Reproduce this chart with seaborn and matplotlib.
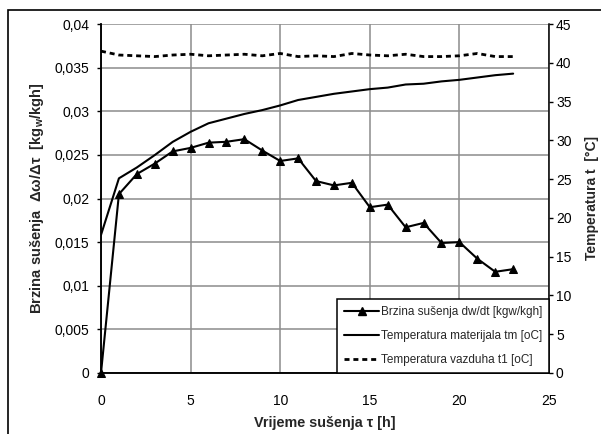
import numpy as np
import pandas as pd
import matplotlib
matplotlib.use("Agg")
import matplotlib.pyplot as plt
from matplotlib.lines import Line2D
from matplotlib.patches import Rectangle
import seaborn as sns

# drying time [h]
hours = list(range(24))

# drying rate dw/dt [kgw/kgh]
drying_rate = [0.0, 0.0205, 0.0228, 0.0240, 0.0254, 0.0258, 0.0264, 0.0265,
               0.0268, 0.0255, 0.0243, 0.0246, 0.0220, 0.0215, 0.0218, 0.0190,
               0.0193, 0.0167, 0.0172, 0.0149, 0.0150, 0.0131, 0.0116, 0.0119]

# material temperature tm [oC]
material_temp = [17.8, 25.1, 26.5, 28.1, 29.8, 31.1, 32.2, 32.8, 33.4, 33.9,
                 34.5, 35.2, 35.6, 36.0, 36.3, 36.6, 36.8, 37.2, 37.3, 37.6,
                 37.8, 38.1, 38.4, 38.6]

# air temperature t1 [oC]
air_temp = [41.5, 41.0, 40.9, 40.8, 41.0, 41.1, 40.9, 41.0, 41.1, 40.9,
            41.2, 40.8, 40.9, 40.8, 41.2, 41.0, 40.9, 41.1, 40.8, 40.8,
            40.9, 41.2, 40.8, 40.8]

legend_labels = ["Brzina sušenja dw/dt [kgw/kgh]",
                 "Temperatura materijala tm [oC]",
                 "Temperatura vazduha t1 [oC]"]

df = pd.DataFrame({"t": hours, "rate": drying_rate,
                   "tm": material_temp, "t1": air_temp})

sns.set_style("white")
plt.rcParams["font.family"] = ["Liberation Sans", "DejaVu Sans"]
plt.rcParams["mathtext.default"] = "regular"

fig = plt.figure(figsize=(6.01, 4.34), dpi=100)
ax1 = fig.add_axes([101 / 601, 61 / 434, 448 / 601, 349 / 434])
ax2 = ax1.twinx()

# outer chart frame
fig.patches.append(Rectangle((8 / 601, -0.05), 1.1, (424 / 434) + 0.05,
                             transform=fig.transFigure, fill=False,
                             edgecolor="black", linewidth=1.2, zorder=0))

sns.lineplot(data=df, x="t", y="rate", ax=ax1, color="black", linewidth=1.5,
             marker="^", markersize=5.5, markeredgecolor="black", clip_on=False)
sns.lineplot(data=df, x="t", y="tm", ax=ax2, color="black", linewidth=1.5)
sns.lineplot(data=df, x="t", y="t1", ax=ax2, color="black", linewidth=2.0,
             dashes=False)
ax2.lines[-1].set_dashes((1.8, 1.4))
ax2.lines[-1].set_dash_capstyle("butt")

ax1.set_xlim(0, 25)
ax1.set_ylim(0, 0.04)
ax2.set_ylim(0, 45)
ax1.set_xticks(np.arange(0, 26, 5))
ax1.set_yticks(np.arange(0, 0.0401, 0.005))
ax2.set_yticks(np.arange(0, 46, 5))
ax1.set_yticklabels(["0", "0,005", "0,01", "0,015", "0,02", "0,025",
                     "0,03", "0,035", "0,04"])

ax1.grid(True, color="#8c8c8c", linewidth=1.1)
ax1.set_axisbelow(True)

for ax in (ax1, ax2):
    ax.spines["top"].set_visible(False)
    for s in ("left", "right", "bottom"):
        ax.spines[s].set_color("black")
        ax.spines[s].set_linewidth(1.1)
ax1.spines["right"].set_visible(False)

ax1.tick_params(axis="x", length=0, pad=15, labelsize=10, colors="black")
ax1.tick_params(axis="y", direction="out", length=3, width=1, pad=5.5,
                labelsize=10, colors="black", left=True)
ax2.tick_params(axis="y", direction="out", length=3, width=1, pad=2,
                labelsize=10, colors="black", right=True)

ax1.set_xlabel("Vrijeme sušenja τ [h]", fontsize=10.4, fontweight="bold",
               labelpad=6)
ax1.set_ylabel("Brzina sušenja  Δω/Δτ  [kg$_{w}$/kgh]", fontsize=10.6,
               fontweight="bold", labelpad=6)
ax2.set_ylabel("Temperatura t  [°C]", fontsize=10, fontweight="bold",
               labelpad=10)

handles = [
    Line2D([], [], color="black", linewidth=1.5, marker="^", markersize=5.5),
    Line2D([], [], color="black", linewidth=1.5),
    Line2D([], [], color="black", linewidth=2.0, dashes=(1.8, 1.4),
           dash_capstyle="butt"),
]
leg = ax2.legend(handles, legend_labels, loc="lower right", fontsize=8.5,
                 frameon=True, fancybox=False, borderaxespad=0,
                 handlelength=3.0, handletextpad=0.1, labelspacing=1.0,
                 borderpad=0.6)
leg.get_frame().set_edgecolor("black")
leg.get_frame().set_linewidth(1.1)
leg.get_frame().set_alpha(1)

fig.savefig("out.png", dpi=100)
